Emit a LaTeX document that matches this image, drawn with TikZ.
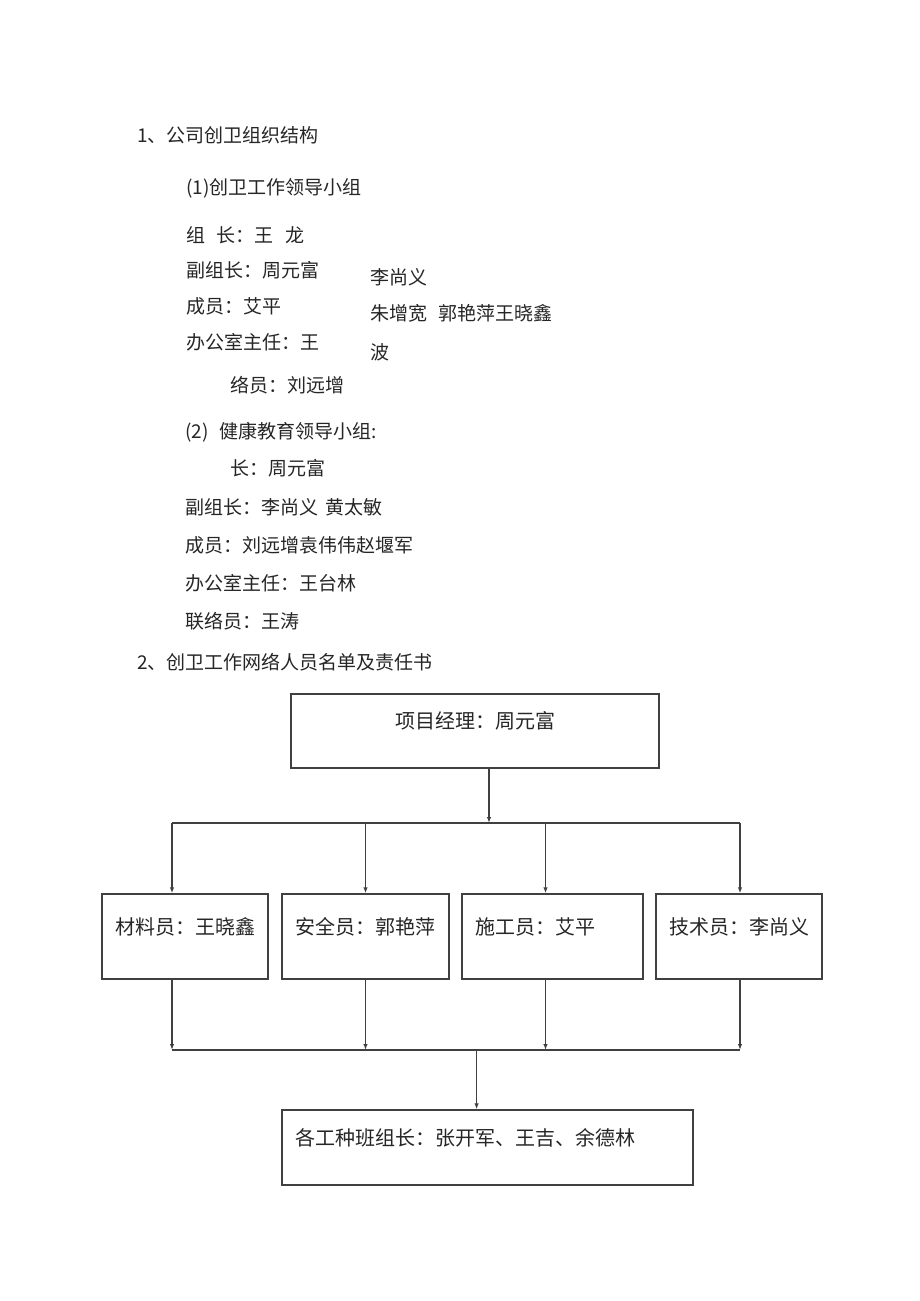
\documentclass[tikz,border=0pt]{standalone}
\usepackage{fontspec}
\setmainfont{Noto Sans CJK SC}
\usetikzlibrary{arrows.meta}
\begin{document}
\begin{tikzpicture}[x=1pt,y=-1pt,
  txt/.style={anchor=west,inner sep=0pt,font=\fontsize{19}{19}\selectfont,text=black!85},
  box/.style={draw=black!75,line width=1.4pt,inner xsep=13pt,inner ysep=0pt,
    text height=15pt,text depth=20pt,font=\fontsize{20}{20}\selectfont,text=black!85},
  conn/.style={draw=black!75,line width=1.3pt},
  arr/.style={conn,-{Latex[length=6pt,width=4.5pt]}}]
\useasboundingbox (0,0) rectangle (920,1301);
\fill[white] (0,0) rectangle (920,1301);
% text part
\node[txt] (h1) at (137,135) {1、公司创卫组织结构};
\node[txt] (s1) at (186,188) {(1)创卫工作领导小组};
\node[txt] (a1) at (186,235) {组\hspace{0.6em}长：王\hspace{0.6em}龙};
\node[txt] (a2) at (186,270) {副组长：周元富};
\node[txt] (a3) at (186,306) {成员：艾平};
\node[txt] (a4) at (186,342) {办公室主任：王};
\node[txt] (a5) at (230,385) {络员：刘远增};
\node[txt] (c1) at (370,277) {李尚义};
\node[txt] (c2) at (370,313) {朱增宽\hspace{0.6em}郭艳萍王晓鑫};
\node[txt] (c3) at (370,352) {波};
\node[txt] (s2) at (185,432) {(2)\hspace{0.6em}健康教育领导小组:};
\node[txt] (e1) at (230,468) {长：周元富};
\node[txt] (e2) at (185,507) {副组长：李尚义\hspace{0.4em}黄太敏};
\node[txt] (e3) at (185,545) {成员：刘远增袁伟伟赵堰军};
\node[txt] (e4) at (185,583) {办公室主任：王台林};
\node[txt] (e5) at (185,621) {联络员：王涛};
\node[txt] (h2) at (137,662) {2、创卫工作网络人员名单及责任书};
% chart
\node[box,minimum height=74pt,text width=342pt,align=center] (top) at (475,731) {项目经理：周元富};
\node[box,minimum height=85pt,text width=140pt,align=left] (b1) at (185,936.5) {材料员：王晓鑫};
\node[box,minimum height=85pt,text width=141pt,align=left] (b2) at (365.5,936.5) {安全员：郭艳萍};
\node[box,minimum height=85pt,text width=155pt,align=left] (b3) at (552.5,936.5) {施工员：艾平};
\node[box,minimum height=85pt,text width=140pt,align=left] (b4) at (739,936.5) {技术员：李尚义};
\node[box,minimum height=75pt,text width=385pt,align=left] (bot) at (487.5,1147.5) {各工种班组长：张开军、王吉、余德林};
\coordinate (hub) at (489,823);
\coordinate (u1) at (172,823);
\coordinate (u2) at (365.5,823);
\coordinate (u3) at (545.5,823);
\coordinate (u4) at (740,823);
\coordinate (l1) at (172,1050);
\coordinate (l2) at (365.5,1050);
\coordinate (l3) at (545.5,1050);
\coordinate (l4) at (740,1050);
\coordinate (m) at (476.6,1050);
\draw[arr] (hub |- top.south) -- (hub);
\draw[conn] (u1) -- (u4);
\draw[arr] (u1) -- (u1 |- b1.north);
\draw[arr] (u2) -- (u2 |- b2.north);
\draw[arr] (u3) -- (u3 |- b3.north);
\draw[arr] (u4) -- (u4 |- b4.north);
\draw[arr] (u1 |- b1.south) -- (l1);
\draw[arr] (u2 |- b2.south) -- (l2);
\draw[arr] (u3 |- b3.south) -- (l3);
\draw[arr] (u4 |- b4.south) -- (l4);
\draw[conn] (l1) -- (l4);
\draw[arr] (m) -- (m |- bot.north);
\end{tikzpicture}
\end{document}
